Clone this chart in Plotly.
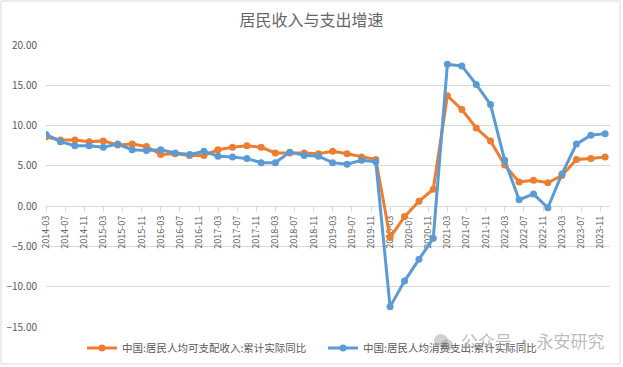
import plotly.graph_objects as go

# ---- data ----
periods = [
    "2014-03", "2014-06", "2014-09", "2014-12",
    "2015-03", "2015-06", "2015-09", "2015-12",
    "2016-03", "2016-06", "2016-09", "2016-12",
    "2017-03", "2017-06", "2017-09", "2017-12",
    "2018-03", "2018-06", "2018-09", "2018-12",
    "2019-03", "2019-06", "2019-09", "2019-12",
    "2020-03", "2020-06", "2020-09", "2020-12",
    "2021-03", "2021-06", "2021-09", "2021-12",
    "2022-03", "2022-06", "2022-09", "2022-12",
    "2023-03", "2023-06", "2023-09", "2023-12",
]
income = [
    8.6, 8.2, 8.2, 8.0,
    8.1, 7.6, 7.7, 7.4,
    6.4, 6.5, 6.3, 6.3,
    7.0, 7.3, 7.5, 7.3,
    6.6, 6.6, 6.6, 6.5,
    6.8, 6.5, 6.1, 5.8,
    -3.9, -1.3, 0.6, 2.1,
    13.7, 12.0, 9.7, 8.1,
    5.1, 3.0, 3.2, 2.9,
    3.8, 5.8, 5.9, 6.1,
]
consumption = [
    8.9, 8.0, 7.5, 7.5,
    7.3, 7.7, 7.0, 6.9,
    7.0, 6.6, 6.4, 6.8,
    6.2, 6.1, 5.9, 5.4,
    5.4, 6.7, 6.3, 6.2,
    5.4, 5.2, 5.7, 5.5,
    -12.5, -9.3, -6.6, -4.0,
    17.6, 17.4, 15.1, 12.6,
    5.7, 0.8, 1.5, -0.2,
    4.0, 7.7, 8.8, 9.0,
]
series_names = ["中国:居民人均可支配收入:累计实际同比", "中国:居民人均消费支出:累计实际同比"]
title_text = "居民收入与支出增速"
watermark_text = "公众号 · 永安研究"

dates = [p + "-01" for p in periods]

# ---- geometry helpers (pixel -> paper) ----
W, H = 623, 367
ML, MR, MT, MB = 46, 13, 45, 40
PW, PH = W - ML - MR, H - MT - MB


def px_x(px):
    return (px - ML) / PW


def px_y(py):
    return (H - MB - py) / PH


FONT = "Noto Sans CJK SC, Noto Sans, sans-serif"
GRAY = "#595959"
GRID = "#d9d9d9"

fig = go.Figure()
fig.add_trace(go.Scatter(
    x=dates, y=income, name=series_names[0], mode="lines+markers",
    line=dict(color="#ED7D31", width=3), marker=dict(size=7, color="#ED7D31"),
))
fig.add_trace(go.Scatter(
    x=dates, y=consumption, name=series_names[1], mode="lines+markers",
    line=dict(color="#5B9BD5", width=3), marker=dict(size=7, color="#5B9BD5"),
))

ymin, ymax = -15, 20
fig.update_layout(
    width=W, height=H,
    margin=dict(l=ML, r=MR, t=MT, b=MB, autoexpand=False),
    paper_bgcolor="white", plot_bgcolor="white",
    font=dict(family=FONT, color=GRAY),
    title=dict(text=title_text, x=0.5, xanchor="center", y=1 - 20 / H, yanchor="middle",
               yref="container", font=dict(size=16, color="#666666", family=FONT)),
    showlegend=True,
    legend=dict(orientation="h", x=px_x(82), xanchor="left", y=px_y(348), yanchor="middle",
                font=dict(size=10.5, color=GRAY, family=FONT), itemwidth=30,
                entrywidth=196, entrywidthmode="pixels",
                bgcolor="rgba(0,0,0,0)", traceorder="normal"),
    xaxis=dict(
        type="date", range=["2014-03-01", "2024-01-01"], automargin=False,
        tick0="2014-03-01", dtick="M4", tickformat="%Y-%m", tickangle=-90,
        anchor="free", position=(0 - ymin) / (ymax - ymin),
        showgrid=False, showline=True, linecolor=GRID, linewidth=1,
        ticks="outside", ticklen=5, tickcolor=GRID,
        tickfont=dict(size=9, color=GRAY, family=FONT),
        layer="below traces", zeroline=False,
    ),
    yaxis=dict(
        range=[ymin, ymax], dtick=5, tickformat=".2f", automargin=False,
        showgrid=True, gridcolor=GRID, gridwidth=1, zeroline=False,
        showline=False, ticks="", ticklabelstandoff=8,
        tickfont=dict(size=10, color=GRAY, family=FONT),
    ),
)

# outer chart border
fig.add_shape(type="rect", xref="paper", yref="paper",
              x0=px_x(1), x1=px_x(620), y0=px_y(364), y1=px_y(1),
              line=dict(color=GRID, width=1), fillcolor="rgba(0,0,0,0)", layer="below")

# watermark icon (two bubbles)
fig.add_shape(type="circle", xref="paper", yref="paper",
              x0=px_x(434), x1=px_x(448), y0=px_y(347), y1=px_y(334),
              line=dict(width=0), fillcolor="rgba(170,170,170,0.55)")
fig.add_shape(type="circle", xref="paper", yref="paper",
              x0=px_x(441), x1=px_x(453), y0=px_y(351), y1=px_y(339),
              line=dict(width=0), fillcolor="rgba(170,170,170,0.55)")
fig.add_annotation(text=watermark_text, xref="paper", yref="paper",
                   x=px_x(459), xanchor="left", y=px_y(340), yanchor="middle",
                   showarrow=False, font=dict(size=17, color="rgba(150,150,150,0.65)", family=FONT))

fig.write_html(
    "out.html",
    config={"displayModeBar": False},
    post_script="document.body.style.margin='0px';document.body.style.padding='0px';"
                "document.body.style.overflow='hidden';",
)
